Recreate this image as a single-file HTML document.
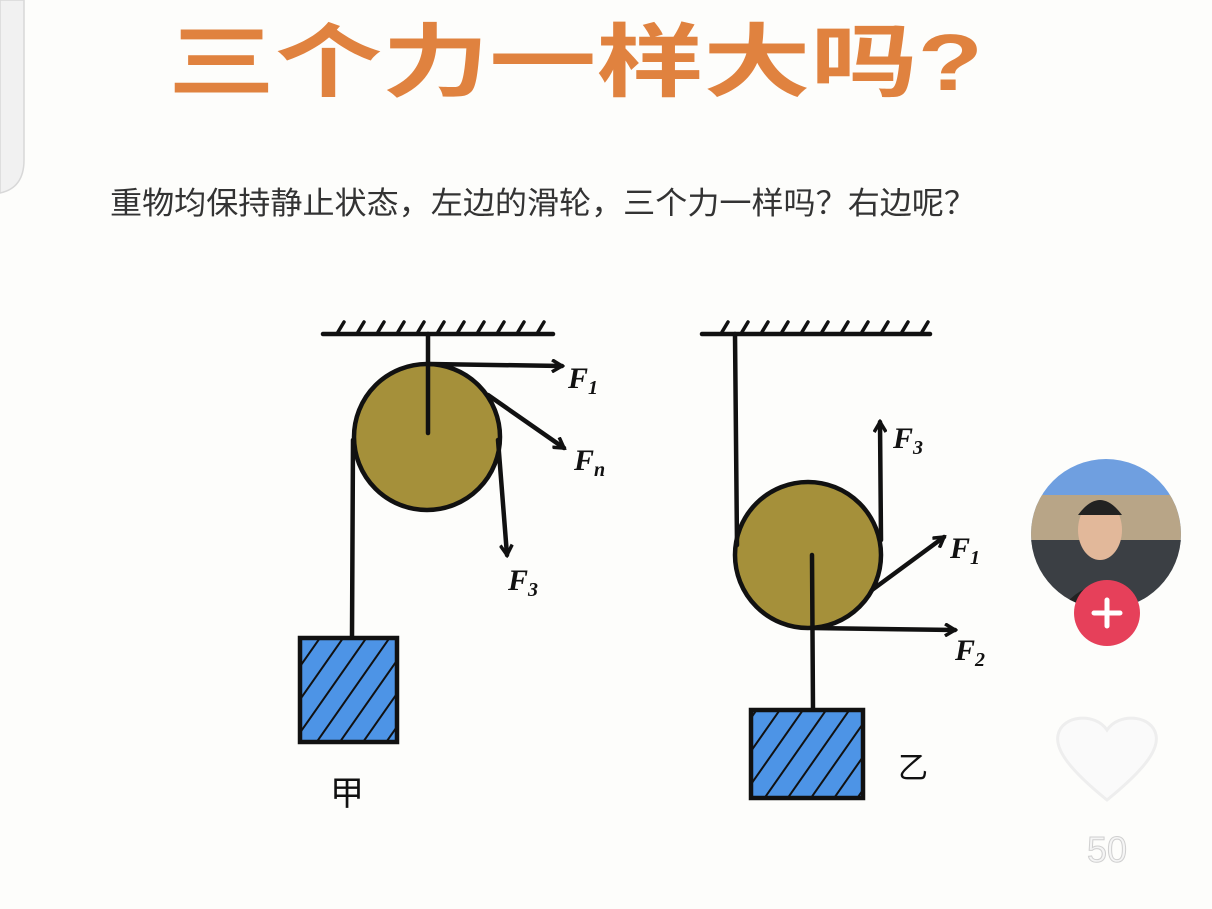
<!DOCTYPE html>
<html><head><meta charset="utf-8"><style>
html,body{margin:0;padding:0;background:#fdfdfb;}
svg{display:block}
</style></head><body>
<svg width="1212" height="909" viewBox="0 0 1212 909" xmlns="http://www.w3.org/2000/svg">
<rect width="1212" height="909" fill="#fdfdfb"/>
<path d="M0 0 H24 V160 Q24 188 0 193 Z" fill="#f1f1f1" stroke="#d8d8d8" stroke-width="1.5"/>
<text x="168" y="90" textLength="815" lengthAdjust="spacingAndGlyphs" font-family="Liberation Sans, Noto Sans CJK SC, sans-serif" font-weight="bold" font-size="80" fill="#e0823f">三个力一样大吗?</text>
<text x="110" y="214" textLength="866" lengthAdjust="spacingAndGlyphs" font-family="Liberation Sans, Noto Sans CJK SC, sans-serif" font-size="31" fill="#333">重物均保持静止状态，左边的滑轮，三个力一样吗？右边呢？</text>
<defs>
<marker id="ah" markerWidth="14" markerHeight="14" refX="11" refY="7" orient="auto" markerUnits="userSpaceOnUse">
<path d="M1 1 L11 7 L1 13" fill="none" stroke="#111" stroke-width="3.5"/>
</marker>
<pattern id="hatch" width="19" height="19" patternUnits="userSpaceOnUse" patternTransform="rotate(35)">
<rect width="19" height="19" fill="#4d94e6"/>
<line x1="0" y1="0" x2="0" y2="19" stroke="#111" stroke-width="4"/>
</pattern>
</defs>
<g stroke="#111" stroke-width="4.5" fill="none" stroke-linecap="round">
<line x1="323" y1="334" x2="553" y2="334"/>
<g stroke-width="3.5">
<path d="M338 332 l6 -10 M358 332 l6 -10 M378 332 l6 -10 M398 332 l6 -10 M418 332 l6 -10 M438 332 l6 -10 M458 332 l6 -10 M478 332 l6 -10 M498 332 l6 -10 M518 332 l6 -10 M538 332 l6 -10"/>
</g>
<circle cx="427" cy="437" r="73" fill="#a5903a"/>
<line x1="428" y1="334" x2="428" y2="433"/>
<line x1="353" y1="440" x2="352" y2="637"/>
<line x1="430" y1="364" x2="562" y2="366" marker-end="url(#ah)"/>
<line x1="488" y1="395" x2="564" y2="448" marker-end="url(#ah)"/>
<line x1="498" y1="440" x2="507" y2="555" marker-end="url(#ah)"/>
<rect x="300" y="638" width="97" height="104" fill="url(#hatch)"/>
<line x1="702" y1="334" x2="930" y2="334"/>
<g stroke-width="3.5">
<path d="M722 332 l6 -10 M742 332 l6 -10 M762 332 l6 -10 M782 332 l6 -10 M802 332 l6 -10 M822 332 l6 -10 M842 332 l6 -10 M862 332 l6 -10 M882 332 l6 -10 M902 332 l6 -10 M922 332 l6 -10"/>
</g>
<circle cx="808" cy="555" r="73" fill="#a5903a"/>
<line x1="735" y1="334" x2="737" y2="545"/>
<line x1="881" y1="540" x2="880" y2="422" marker-end="url(#ah)"/>
<line x1="872" y1="590" x2="944" y2="537" marker-end="url(#ah)"/>
<line x1="812" y1="628" x2="955" y2="630" marker-end="url(#ah)"/>
<line x1="812" y1="555" x2="813" y2="710"/>
<rect x="751" y="710" width="112" height="88" fill="url(#hatch)"/>
</g>
<g font-family="Liberation Serif, serif" font-style="italic" font-weight="bold" fill="#111">
<text x="568" y="388" font-size="30">F<tspan font-size="20" dy="6">1</tspan></text>
<text x="574" y="470" font-size="30">F<tspan font-size="20" dy="6">n</tspan></text>
<text x="508" y="590" font-size="30">F<tspan font-size="20" dy="6">3</tspan></text>
<text x="893" y="448" font-size="30">F<tspan font-size="20" dy="6">3</tspan></text>
<text x="950" y="558" font-size="30">F<tspan font-size="20" dy="6">1</tspan></text>
<text x="955" y="660" font-size="30">F<tspan font-size="20" dy="6">2</tspan></text>
</g>
<text x="330" y="805" font-family="Liberation Sans, Noto Sans CJK SC, sans-serif" font-size="34" fill="#111">甲</text>
<text x="898" y="778" font-family="Liberation Sans, Noto Sans CJK SC, sans-serif" font-size="30" fill="#111">乙</text>
<defs><clipPath id="av"><circle cx="1106" cy="534" r="75"/></clipPath></defs>
<g clip-path="url(#av)">
<rect x="1030" y="459" width="152" height="150" fill="#6f9fe0"/>
<rect x="1030" y="495" width="152" height="115" fill="#b8a587"/>
<rect x="1030" y="540" width="152" height="70" fill="#3b3f44"/>
<ellipse cx="1100" cy="530" rx="22" ry="30" fill="#e2b89a"/>
<path d="M1078 515 Q1100 485 1122 515 Z" fill="#222"/>
<path d="M1060 610 Q1100 560 1145 610 Z" fill="#222"/>
</g>
<circle cx="1107" cy="613" r="33" fill="#e6405a"/>
<path d="M1094 613 H1120 M1107 600 V626" stroke="#fff" stroke-width="5" stroke-linecap="round"/>
<path d="M1107 800 C1070 770 1055 750 1058 735 C1062 715 1095 712 1107 730 C1119 712 1152 715 1156 735 C1159 750 1144 770 1107 800 Z" fill="#fafafa" stroke="#eeeeee" stroke-width="3"/>
<text x="1107" y="862" text-anchor="middle" font-family="Liberation Sans, sans-serif" font-size="36" fill="#f5f5f5" stroke="#d0d0d0" stroke-width="1">50</text>
</svg>
</body></html>
